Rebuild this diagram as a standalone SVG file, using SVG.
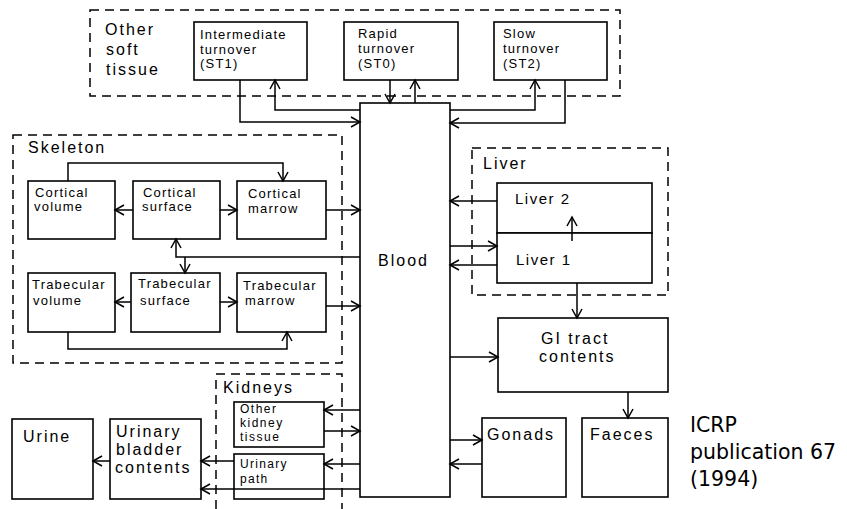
<svg xmlns="http://www.w3.org/2000/svg" width="847" height="509" viewBox="0 0 847 509">
<defs>
<marker id="ah" markerUnits="userSpaceOnUse" markerWidth="12" markerHeight="12" refX="9" refY="5" orient="auto" overflow="visible">
<path d="M0,0 L9,5 L0,10" fill="none" stroke="#000" stroke-width="1.5"/>
</marker>
</defs>
<style>
.box{fill:#fff;stroke:#000;stroke-width:1.6}
.dash{fill:none;stroke:#000;stroke-width:1.5;stroke-dasharray:9 6}
.c{fill:none;stroke:#000;stroke-width:1.5;marker-end:url(#ah)}
.t16{font-family:"Liberation Sans",Arial,sans-serif;font-size:16px;letter-spacing:2px;fill:#000}
.t15{font-family:"Liberation Sans",Arial,sans-serif;font-size:15px;letter-spacing:1.5px;fill:#000}
.t13{font-family:"Liberation Sans",Arial,sans-serif;font-size:13px;letter-spacing:1.2px;fill:#000}
.t12{font-family:"Liberation Sans",Arial,sans-serif;font-size:12px;letter-spacing:1.5px;fill:#000}
.ref{font-family:"DejaVu Sans",Verdana,sans-serif;font-size:20.5px;fill:#000}
</style>
<g id="group-soft-tissue">
<rect class="dash" x="90" y="10" width="530" height="86"/>
<text class="t16"><tspan x="105" y="35">Other</tspan><tspan x="106" y="55">soft</tspan><tspan x="106" y="75">tissue</tspan></text>
</g>
<g id="group-skeleton">
<rect class="dash" x="13" y="135" width="329" height="228"/>
<text class="t16" x="28" y="153">Skeleton</text>
</g>
<g id="group-liver">
<rect class="dash" x="472" y="148" width="196" height="147"/>
<text class="t16" x="483" y="169">Liver</text>
</g>
<g id="group-kidneys">
<path class="dash" d="M216,509 V374 H342 V509"/>
<text class="t16" x="223" y="393">Kidneys</text>
</g>
<g id="st1">
<rect class="box" x="194" y="22" width="113" height="58"/>
<text class="t13"><tspan x="200" y="39">Intermediate</tspan><tspan x="200" y="53.5">turnover</tspan><tspan x="200" y="68">(ST1)</tspan></text>
</g>
<g id="st0">
<rect class="box" x="344" y="22" width="114" height="58"/>
<text class="t13"><tspan x="358" y="38">Rapid</tspan><tspan x="358" y="53">turnover</tspan><tspan x="358" y="67.5">(ST0)</tspan></text>
</g>
<g id="st2">
<rect class="box" x="494" y="22" width="113" height="58"/>
<text class="t13"><tspan x="503" y="38">Slow</tspan><tspan x="503" y="53">turnover</tspan><tspan x="503" y="67.5">(ST2)</tspan></text>
</g>
<g id="blood">
<rect class="box" x="360" y="103" width="90" height="394"/>
<text class="t16" x="378" y="266">Blood</text>
</g>
<g id="cortical-volume">
<rect class="box" x="28" y="181" width="87" height="58"/>
<text class="t13"><tspan x="35" y="197">Cortical</tspan><tspan x="34" y="211">volume</tspan></text>
</g>
<g id="cortical-surface">
<rect class="box" x="133" y="181" width="87" height="58"/>
<text class="t13"><tspan x="143" y="197">Cortical</tspan><tspan x="142" y="211">surface</tspan></text>
</g>
<g id="cortical-marrow">
<rect class="box" x="237" y="181" width="89" height="58"/>
<text class="t13"><tspan x="248" y="198">Cortical</tspan><tspan x="248" y="213">marrow</tspan></text>
</g>
<g id="trabecular-volume">
<rect class="box" x="28" y="273" width="87" height="59"/>
<text class="t13"><tspan x="32" y="289">Trabecular</tspan><tspan x="33" y="305">volume</tspan></text>
</g>
<g id="trabecular-surface">
<rect class="box" x="131" y="273" width="89" height="59"/>
<text class="t13"><tspan x="138" y="288">Trabecular</tspan><tspan x="140" y="305">surface</tspan></text>
</g>
<g id="trabecular-marrow">
<rect class="box" x="237" y="273" width="89" height="59"/>
<text class="t13"><tspan x="243" y="290">Trabecular</tspan><tspan x="245" y="305">marrow</tspan></text>
</g>
<g id="liver-2">
<rect class="box" x="497" y="183" width="155" height="50"/>
<text class="t15" x="515" y="204">Liver 2</text>
</g>
<g id="liver-1">
<rect class="box" x="497" y="233" width="155" height="50"/>
<text class="t15" x="516" y="265">Liver 1</text>
</g>
<g id="gi-tract">
<rect class="box" x="498" y="318" width="170" height="74"/>
<text class="t16"><tspan x="541" y="344">GI tract</tspan><tspan x="539" y="362">contents</tspan></text>
</g>
<g id="gonads">
<rect class="box" x="482" y="418" width="84" height="79"/>
<text class="t16" x="487" y="440">Gonads</text>
</g>
<g id="faeces">
<rect class="box" x="582" y="418" width="86" height="79"/>
<text class="t16" x="590" y="440">Faeces</text>
</g>
<g id="other-kidney-tissue">
<rect class="box" x="234" y="402" width="90" height="45"/>
<text class="t12"><tspan x="240" y="413">Other</tspan><tspan x="240" y="427">kidney</tspan><tspan x="240" y="441">tissue</tspan></text>
</g>
<g id="urinary-path">
<rect class="box" x="234" y="454" width="90" height="45"/>
<text class="t12" style="letter-spacing:1.3px"><tspan x="240" y="468">Urinary</tspan><tspan x="240" y="483">path</tspan></text>
</g>
<g id="urinary-bladder">
<rect class="box" x="110" y="419" width="91" height="80"/>
<text class="t16"><tspan x="116" y="437">Urinary</tspan><tspan x="116" y="455">bladder</tspan><tspan x="115" y="473">contents</tspan></text>
</g>
<g id="urine">
<rect class="box" x="12" y="419" width="81" height="80"/>
<text class="t16" x="23" y="442">Urine</text>
</g>
<g id="reference">
<text class="ref"><tspan x="690" y="432">ICRP</tspan><tspan x="690" y="459">publication 67</tspan><tspan x="690" y="486">(1994)</tspan></text>
</g>
<g id="connectors">
<path class="c" d="M240,80 V122 H360"/>
<path class="c" d="M360,110 H275 V80"/>
<path class="c" d="M390,80 V103"/>
<path class="c" d="M415,103 V80"/>
<path class="c" d="M450,110 H535 V80"/>
<path class="c" d="M565,80 V123 H450"/>
<path class="c" d="M68,181 V163 H283 V181"/>
<path class="c" d="M133,210 H115"/>
<path class="c" d="M220,210 H237"/>
<path class="c" d="M326,210 H360"/>
<path class="c" d="M360,257 H176 V239"/>
<path class="c" d="M185,257 V273"/>
<path class="c" d="M131,302 H115"/>
<path class="c" d="M220,302 H237"/>
<path class="c" d="M326,306 H360"/>
<path class="c" d="M68,332 V349 H287 V332"/>
<path class="c" d="M497,201 H450"/>
<path class="c" d="M450,246 H497"/>
<path class="c" d="M497,265 H450"/>
<path class="c" d="M572,241 V217"/>
<path class="c" d="M577,283 V318"/>
<path class="c" d="M450,357 H498"/>
<path class="c" d="M628,392 V418"/>
<path class="c" d="M450,440 H482"/>
<path class="c" d="M482,464 H450"/>
<path class="c" d="M360,410 H324"/>
<path class="c" d="M324,431 H360"/>
<path class="c" d="M360,464 H324"/>
<path class="c" d="M234,461 H201"/>
<path class="c" d="M360,489 H201"/>
<path class="c" d="M110,461 H93"/>
</g>
</svg>
